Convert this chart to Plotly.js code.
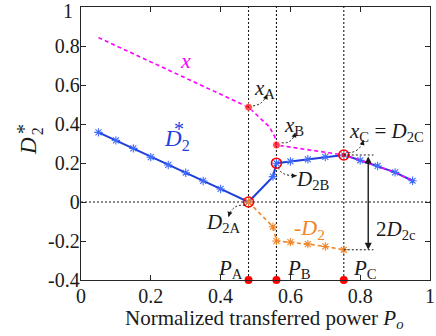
<!DOCTYPE html>
<html><head><meta charset="utf-8">
<script src="https://cdn.plot.ly/plotly-3.0.1.min.js"></script>
<style>
html,body{margin:0;padding:0;background:#fff}
#chart text{font-family:'Liberation Serif' !important}
</style>
</head><body><div id="chart" style="width:436px;height:336px"></div>
<script>
// ---------------- data ----------------
const D2_x = [0.05,0.10,0.15,0.20,0.25,0.30,0.35,0.40,0.48,0.55,0.56,0.60,0.65,0.70,0.753,0.80,0.85,0.90,0.95];
const D2_y = [0.357,0.316,0.275,0.230,0.190,0.150,0.108,0.067,0.0,0.130,0.199,0.208,0.219,0.231,0.241,0.214,0.185,0.152,0.109];
const xc_x = [0.05,0.48,0.54,0.555,0.56,0.753,0.80,0.85,0.90,0.95];
const xc_y = [0.843,0.486,0.385,0.335,0.292,0.241,0.214,0.185,0.152,0.109];
const negD2_x = [0.48,0.55,0.56,0.60,0.65,0.70,0.753];
const negD2_y = [0.0,-0.127,-0.200,-0.206,-0.216,-0.228,-0.245];
const P_x = [0.48,0.56,0.753];          // PA, PB, PC
const P_names = ['A','B','C'];
const xPts_y = [0.486,0.292,0.241];     // xA, xB, xC
const D2Pts_y = [0.0,0.199,0.241];      // D2A, D2B, D2C
const xTicks = [0,0.2,0.4,0.6,0.8,1];
const xTickText = ['0','0.2','0.4','0.6','0.8','1'];
const yTicks = [-0.4,-0.2,0,0.2,0.4,0.6,0.8,1];
const yTickText = ['-0.4','-0.2','0','0.2','0.4','0.6','0.8','1'];
const yMin = -0.4, yMax = 1;

// ---------------- styling ----------------
const FONT = 'Liberation Serif';
const BLUE = '#1f3fdc', BLUE_M = '#3f6cff', MAG = '#ff00ff', ORA = '#f0852a', RED = '#ff0000';
const INK = '#1a1a1a';

const traces = [
  {x: D2_x, y: D2_y, mode: 'lines', line: {color: BLUE, width: 2}, hoverinfo: 'skip'},
  {x: xc_x, y: xc_y, mode: 'lines', line: {color: MAG, width: 1.6, dash: '4px,3px'}, hoverinfo: 'skip'},
  {x: D2_x, y: D2_y, mode: 'markers', marker: {symbol: 'asterisk-open', size: 7, color: BLUE_M, line: {color: BLUE_M, width: 1.1}}, hoverinfo: 'skip'},
  {x: negD2_x, y: negD2_y, mode: 'lines+markers', line: {color: ORA, width: 1.6, dash: '4px,3px'},
   marker: {symbol: 'asterisk-open', size: 7, color: ORA, line: {color: ORA, width: 1.1}}, hoverinfo: 'skip'},
  {x: P_x, y: xPts_y, mode: 'markers', marker: {color: RED, size: [8, 8, 6]}, hoverinfo: 'skip'},
  {x: P_x, y: D2Pts_y, mode: 'markers', marker: {symbol: 'circle-open', color: RED, size: 10, line: {width: 1.6, color: RED}}, hoverinfo: 'skip'},
  {x: P_x, y: P_x.map(() => yMin), mode: 'markers', marker: {color: RED, size: 8}, cliponaxis: false, hoverinfo: 'skip'}
];

const shapes = [];
const DOT = {color: INK, width: 1.1, dash: '2px,2px'};
P_x.forEach(px => shapes.push({type: 'line', xref: 'x', yref: 'paper', x0: px, x1: px, y0: 0, y1: 1, line: DOT, layer: 'below'}));
shapes.push({type: 'line', xref: 'paper', yref: 'y', x0: 0, x1: 1, y0: 0, y1: 0, line: DOT, layer: 'below'});
const PC = P_x[2], D2C = D2Pts_y[2], nD2C = negD2_y[negD2_y.length - 1];
shapes.push({type: 'line', xref: 'x', yref: 'y', x0: PC, x1: 0.838, y0: D2C, y1: D2C, line: DOT});
shapes.push({type: 'line', xref: 'x', yref: 'y', x0: PC, x1: 0.838, y0: nD2C, y1: nD2C, line: DOT});

const arrows = [
  [[0.493, 0.493], [0.522, 0.498], [0.533, 0.553]],   // xA
  [[0.575, 0.304], [0.605, 0.296], [0.614, 0.357]],   // xB
  [[0.766, 0.253], [0.800, 0.255], [0.809, 0.318]],   // xC
  [[0.566, 0.177], [0.571, 0.133], [0.618, 0.135]],   // D2B
  [[0.470, -0.017], [0.433, -0.009], [0.423, -0.076]] // D2A
];
const annotations = [];
const SX = 349, SY = 273 / (yMax - yMin);
arrows.forEach(([t, c, h]) => {
  shapes.push({type: 'path', xref: 'x', yref: 'y',
    path: `M ${t[0]},${t[1]} Q ${c[0]},${c[1]} ${h[0]},${h[1]}`, line: {color: INK, width: 1, dash: '2px,2px'}});
  let dx = (h[0] - c[0]) * SX, dy = -(h[1] - c[1]) * SY;
  const L = Math.hypot(dx, dy); dx /= L; dy /= L;
  annotations.push({x: h[0], y: h[1], xref: 'x', yref: 'y', text: '', showarrow: true,
    ax: -dx * 6, ay: -dy * 6, arrowhead: 2, arrowsize: 1, arrowwidth: 1, arrowcolor: INK, standoff: 0});
});

annotations.push({x: 0.823, y: nD2C, ax: 0.823, ay: D2C, xref: 'x', yref: 'y', axref: 'x', ayref: 'y',
  text: '', showarrow: true, arrowhead: 2, arrowside: 'end+start', arrowsize: 1, arrowwidth: 1.4, arrowcolor: INK, standoff: 0, startstandoff: 0});

function lab(x, y, text, color, size, extra) {
  annotations.push(Object.assign({x, y, xref: 'x', yref: 'y', text, showarrow: false,
    font: {family: FONT, size: size || 21, color: color || INK}, xanchor: 'center', yanchor: 'middle'}, extra || {}));
}
lab(0.299, 0.726, '<i>x</i>', MAG, 22);
lab(0.233, 0.318, '<i>D</i><sub>2</sub>', BLUE, 23, {xanchor: 'left', yanchor: 'middle'});
lab(0.280, 0.375, '*', BLUE, 20);
lab(0.525, 0.580, '<i>x</i><sub>A</sub>');
lab(0.611, 0.390, '<i>x</i><sub>B</sub>');
lab(0.875, 0.360, '<i>x</i><sub>C</sub> = <i>D</i><sub>2C</sub>');
lab(0.665, 0.112, '<i>D</i><sub>2B</sub>');
lab(0.407, -0.106, '<i>D</i><sub>2A</sub>');
lab(0.656, -0.140, '-<i>D</i><sub>2</sub>', ORA, 22);
lab(0.903, -0.145, '2<i>D</i><sub>2c</sub>');
P_x.forEach((px, i) => lab([0.429, 0.624, 0.815][i], -0.345, '<i>P</i><sub>' + P_names[i] + '</sub>'));

// top y tick label, drawn slightly inside the picture as in the reference
annotations.push({xref: 'paper', yref: 'paper', x: -0.018, y: 0.985, xanchor: 'right', yanchor: 'middle', showarrow: false,
  text: yTickText[yTickText.length - 1], font: {family: FONT, size: 20, color: INK}});
const yTickShown = yTickText.map((t, i) => i === yTickText.length - 1 ? '' : t);

annotations.push({xref: 'paper', yref: 'paper', x: 0.524, y: -0.142, xanchor: 'center', yanchor: 'middle', showarrow: false,
  text: 'Normalized transferred power <i>P</i><sub><i>o</i></sub>', font: {family: FONT, size: 21, color: INK}});
annotations.push({xref: 'paper', yref: 'paper', x: -0.150, y: 0.49, xanchor: 'center', yanchor: 'middle', showarrow: false,
  textangle: -90, text: '<i>D</i>', font: {family: FONT, size: 23, color: INK}});
annotations.push({xref: 'paper', yref: 'paper', x: -0.126, y: 0.545, xanchor: 'center', yanchor: 'middle', showarrow: false,
  textangle: -90, text: '2', font: {family: FONT, size: 16, color: INK}});
annotations.push({xref: 'paper', yref: 'paper', x: -0.162, y: 0.555, xanchor: 'center', yanchor: 'middle', showarrow: false,
  textangle: -90, text: '*', font: {family: FONT, size: 20, color: INK}});

function axis(extra) {
  return Object.assign({showgrid: false, zeroline: false, showline: true, mirror: 'ticks', linecolor: '#262626', linewidth: 1.3,
    ticks: 'inside', ticklen: 5, tickwidth: 1, tickcolor: '#262626', ticklabeloverflow: 'allow',
    tickfont: {family: FONT, size: 20, color: INK}}, extra);
}

const layout = {
  width: 436, height: 336, margin: {l: 81, r: 6, t: 7, b: 56},
  paper_bgcolor: '#fff', plot_bgcolor: '#fff', showlegend: false,
  xaxis: axis({range: [0, 1], tickvals: xTicks, ticktext: xTickText, ticklabelstandoff: -2}),
  yaxis: axis({range: [yMin, yMax], tickvals: yTicks, ticktext: yTickShown, ticklabelstandoff: -4}),
  shapes, annotations
};
Plotly.newPlot('chart', traces, layout, {displayModeBar: false, staticPlot: true});
</script></body></html>
